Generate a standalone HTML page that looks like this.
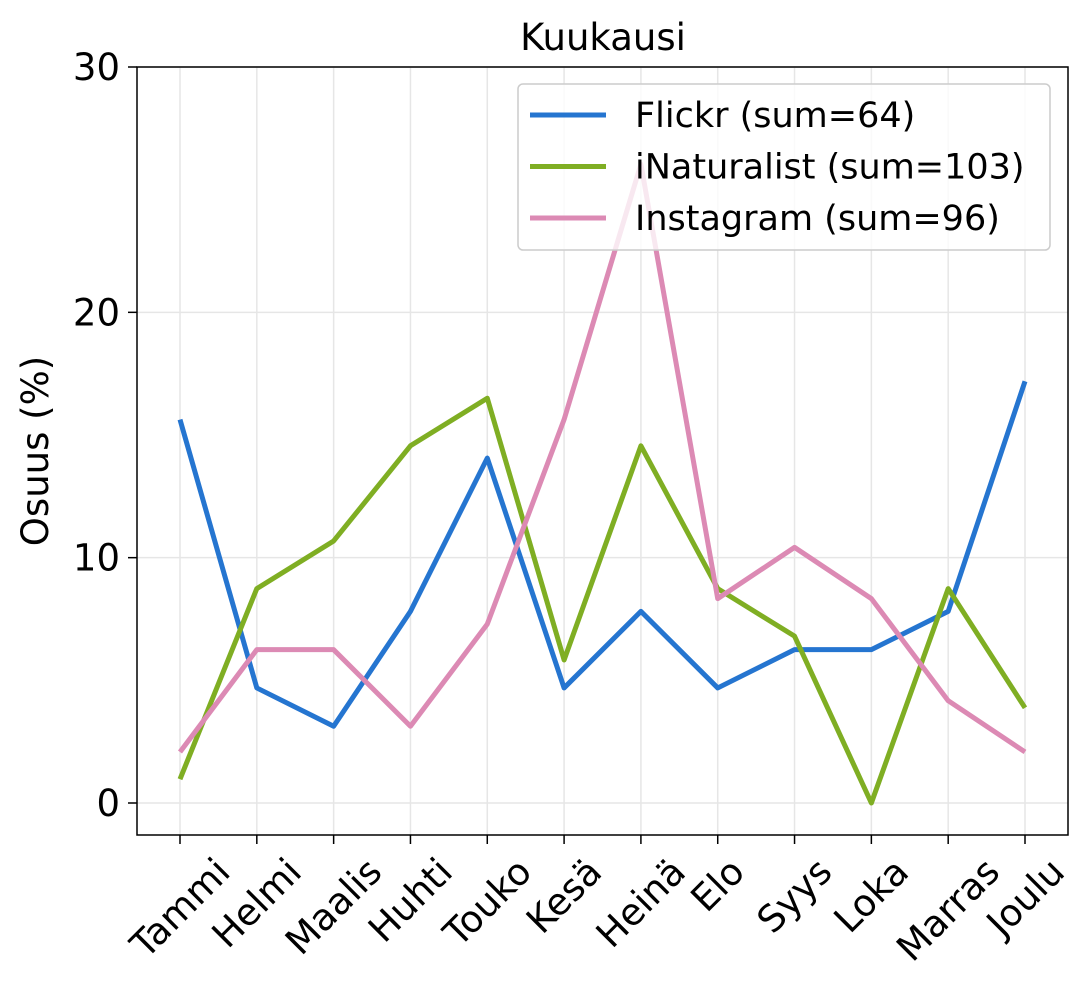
<!DOCTYPE html>
<html><head><meta charset="utf-8"><style>
body{margin:0;background:#fff}
text{font-family:"DejaVu Sans","Liberation Sans",sans-serif;fill:#000}
</style></head><body>
<svg id="chart" width="1092" height="996" xmlns="http://www.w3.org/2000/svg">
<text x="603" y="50" font-size="37" text-anchor="middle">Kuukausi</text>
<text transform="translate(48,451) rotate(-90)" font-size="37" text-anchor="middle">Osuus (%)</text>
<g id="grid"></g><g id="series"></g><g id="axes"></g><g id="legend"></g>
</svg>
<script>
const months=["Tammi","Helmi","Maalis","Huhti","Touko","Kesä","Heinä","Elo","Syys","Loka","Marras","Joulu"];
const flickr=[15.63,4.69,3.13,7.81,14.06,4.69,7.81,4.69,6.25,6.25,7.81,17.19];
const inaturalist=[0.97,8.74,10.68,14.56,16.50,5.83,14.56,8.74,6.80,0,8.74,3.88];
const instagram=[2.08,6.25,6.25,3.13,7.29,15.63,26.04,8.33,10.42,8.33,4.17,2.08];
const yTicks=[0,10,20,30];
const seriesNames=["Flickr (sum=64)","iNaturalist (sum=103)","Instagram (sum=96)"];
const NS="http://www.w3.org/2000/svg";
const L=137,R=1068,T=67,B=835;
const xs=i=>180+i*(1025-180)/11;
const ys=v=>803-v*(803-67)/30;
function mk(tag,attrs,parent){const e=document.createElementNS(NS,tag);for(const k in attrs)e.setAttribute(k,attrs[k]);parent.appendChild(e);return e;}
const grid=document.getElementById('grid'),axes=document.getElementById('axes'),ser=document.getElementById('series'),leg=document.getElementById('legend');
months.forEach((m,i)=>{
 const g=mk('line',{x1:xs(i),x2:xs(i),y1:T,y2:B,stroke:'#e6e6e6','stroke-width':1.5},grid);
 
 
 const t=mk('line',{x1:xs(i),x2:xs(i),y1:B,y2:B+9,stroke:'#000','stroke-width':1.5},axes);
 
 
 const tx=mk('text',{'font-size':37,'text-anchor':'middle'},axes);
 tx.textContent=m;
 
 
 tx.setAttribute('transform','rotate(-45)');
 const bb=tx.getBoundingClientRect();
 const cx=bb.left+bb.width/2, top=bb.top;
 tx.setAttribute('transform',`translate(${xs(i)-cx},${850-top}) rotate(-45)`);
});
yTicks.forEach(v=>{
 const g=mk('line',{x1:L,x2:R,y1:ys(v),y2:ys(v),stroke:'#e6e6e6','stroke-width':1.5},grid);
 
 
 const t=mk('line',{x1:L-9,x2:L,y1:ys(v),y2:ys(v),stroke:'#000','stroke-width':1.5},axes);
 
 
 const tx=mk('text',{x:L-17,y:ys(v)+13,'font-size':37,'text-anchor':'end'},axes);
 tx.textContent=v;
 
 
});
const frame=mk('rect',{x:L,y:T,width:R-L,height:B-T,fill:'none',stroke:'#000','stroke-width':1.5},axes);


const data=[flickr,inaturalist,instagram],cols=["#2575d0","#7fae23","#dc8ab4"],names=["flickr-line","inaturalist-line","instagram-line"];
data.forEach((d,k)=>{
 const p=mk('polyline',{points:d.map((v,i)=>xs(i)+','+ys(v)).join(' '),fill:'none',stroke:cols[k],'stroke-width':5,'stroke-linejoin':'round'},ser);
 
 
});
const box=mk('rect',{x:518,y:84,width:532,height:166,rx:5,fill:'#fff','fill-opacity':0.8,stroke:'#ccc','stroke-width':1.5},leg);


seriesNames.forEach((n,k)=>{
 const y=115+k*51.5;
 const l=mk('line',{x1:530,x2:606,y1:y,y2:y,stroke:cols[k],'stroke-width':5},leg);
 
 
 const t=mk('text',{x:635,y:y+12,'font-size':35},leg);
 t.textContent=n;
 
 
});
</script>
</body></html>
